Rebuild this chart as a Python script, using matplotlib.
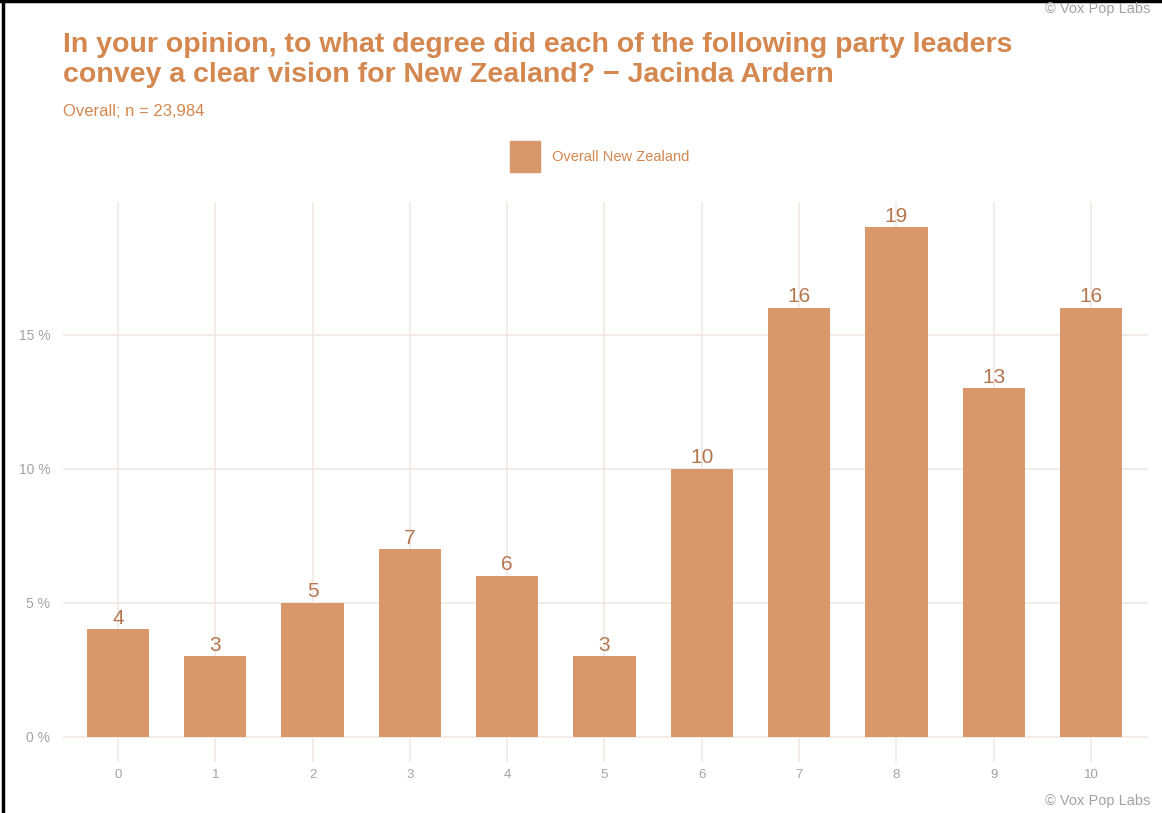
import matplotlib.pyplot as plt
from matplotlib.lines import Line2D

plt.rcParams['font.family'] = ['Liberation Sans', 'DejaVu Sans']

scores = [0, 1, 2, 3, 4, 5, 6, 7, 8, 9, 10]
percent = [4, 3, 5, 7, 6, 3, 10, 16, 19, 13, 16]
y_ticks = [0, 5, 10, 15]
y_tick_labels = ["0 %", "5 %", "10 %", "15 %"]

bar_color = "#D9976C"
title_color = "#D4874F"
label_color = "#B5764F"
grid_color = "#F3E9E4"
tick_color = "#A8A0A0"

fig = plt.figure(figsize=(11.62, 8.13), dpi=100)
ax = fig.add_axes([63 / 1162, 1 - 762 / 813, (1148 - 63) / 1162, (762 - 202) / 813])

ax.bar(scores, percent, width=0.64, color=bar_color, zorder=2)
for x, v in zip(scores, percent):
    ax.text(x, v + 0.05, str(v), ha="center", va="bottom", fontsize=15,
            color=label_color, zorder=3)

ax.set_xlim(-0.565, 10.586)
ax.set_ylim(-0.95, 19.95)
ax.set_xticks(scores)
ax.set_xticklabels([str(s) for s in scores])
ax.set_yticks(y_ticks)
ax.set_yticklabels(y_tick_labels)
ax.tick_params(length=0, labelcolor=tick_color)
ax.tick_params(axis="x", pad=5, labelsize=9.5)
ax.tick_params(axis="y", pad=9, labelsize=10)
ax.grid(True, color=grid_color, linewidth=1.2, zorder=0)
for s in ax.spines.values():
    s.set_visible(False)

fig.text(63 / 1162, 1 - 45 / 813, "In your opinion, to what degree did each of the following party leaders",
         fontsize=20.5, fontweight="bold", color=title_color, va="center")
fig.text(63 / 1162, 1 - 75 / 813, "convey a clear vision for New Zealand? \u2212 Jacinda Ardern",
         fontsize=20.5, fontweight="bold", color=title_color, va="center")
fig.text(63 / 1162, 1 - 111 / 813, "Overall; n = 23,984", fontsize=12,
         color=title_color, va="center")

# legend square and label
fig.patches.append(plt.Rectangle((510 / 1162, 1 - 172 / 813), 30 / 1162, 31 / 813,
                                 transform=fig.transFigure, color=bar_color))
fig.text(552 / 1162, 1 - 157 / 813, "Overall New Zealand", fontsize=10.5,
         color=title_color, va="center")

fig.text(1150 / 1162, 1 - 9 / 813, "\u00a9 Vox Pop Labs", fontsize=10.5,
         color=tick_color, ha="right", va="center")
fig.text(1150 / 1162, 1 - 801 / 813, "\u00a9 Vox Pop Labs", fontsize=10.5,
         color=tick_color, ha="right", va="center")

# dark frame on the top and left edges
fig.lines.append(Line2D([0, 1], [1 - 1.5 / 813, 1 - 1.5 / 813], transform=fig.transFigure,
                        color="black", linewidth=2.5))
fig.lines.append(Line2D([3 / 1162, 3 / 1162], [0, 1], transform=fig.transFigure,
                        color="black", linewidth=2.5))

fig.savefig("out.png", dpi=100)
